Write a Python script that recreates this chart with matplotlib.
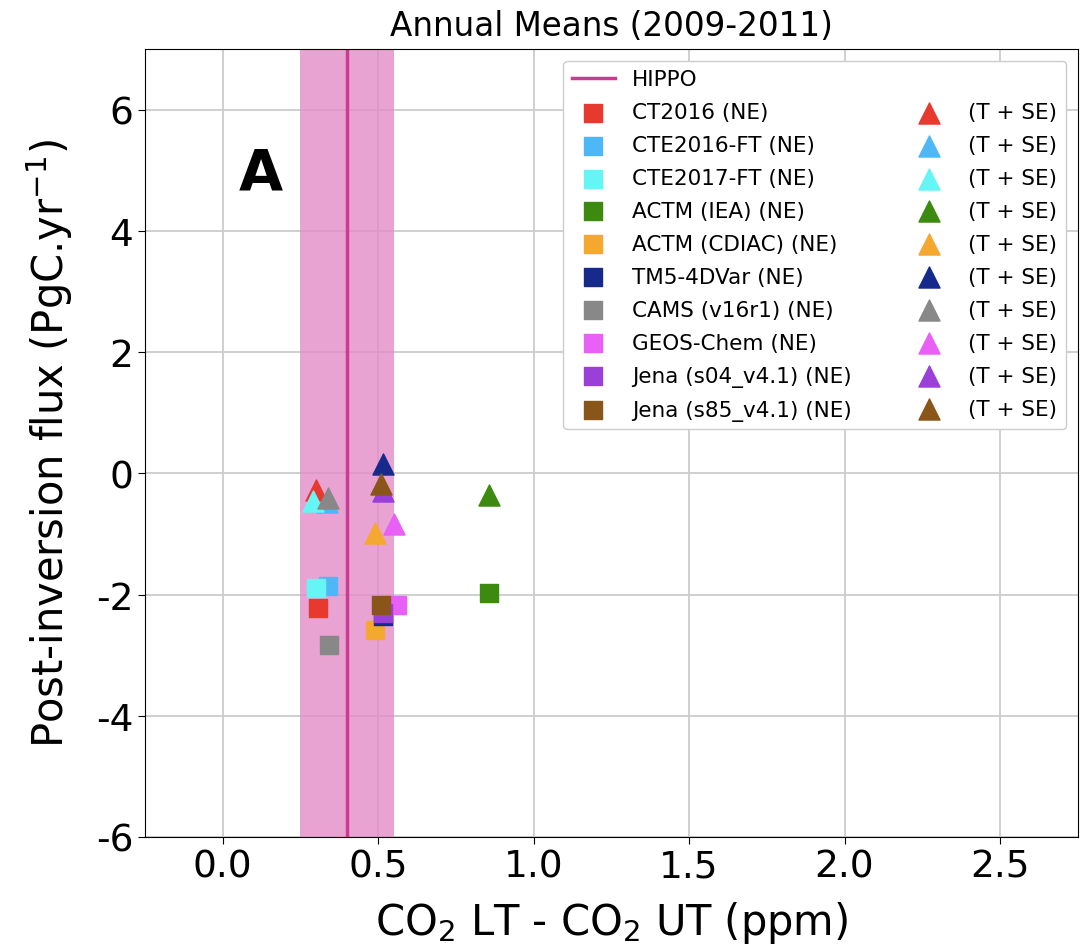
import matplotlib
matplotlib.use("Agg")
import matplotlib.pyplot as plt
from matplotlib.lines import Line2D

models = ["CT2016", "CTE2016-FT", "CTE2017-FT", "ACTM (IEA)", "ACTM (CDIAC)",
          "TM5-4DVar", "CAMS (v16r1)", "GEOS-Chem", "Jena (s04_v4.1)", "Jena (s85_v4.1)"]
colors = ["#e8392f", "#4db8f5", "#66f5f5", "#3d8a10", "#f5a830",
          "#162a8c", "#888888", "#e860f5", "#9a40d8", "#8a5518"]
# NE (squares)
ne_x = [0.305, 0.34, 0.30, 0.855, 0.49, 0.515, 0.343, 0.56, 0.515, 0.51]
ne_y = [-2.23, -1.86, -1.90, -1.98, -2.58, -2.36, -2.84, -2.18, -2.30, -2.18]
# T + SE (triangles)
tse_x = [0.30, 0.335, 0.29, 0.855, 0.49, 0.515, 0.34, 0.55, 0.515, 0.51]
tse_y = [-0.28, -0.48, -0.45, -0.36, -0.99, 0.16, -0.41, -0.84, -0.30, -0.17]

hippo_x = 0.40
hippo_lo, hippo_hi = 0.25, 0.55

fig = plt.figure(figsize=(10.82, 9.53), dpi=100)
ax = fig.add_axes([0.134, 0.1207, 0.862, 0.8268])

ax.axvspan(hippo_lo, hippo_hi, color="#e48cc8", alpha=0.8, zorder=1, lw=0)
hl, = ax.plot([hippo_x, hippo_x], [-6, 7], color="#cc3b92", lw=2.5, zorder=2)

sq_handles, tri_handles = [], []
for i in range(len(models)):
    s = ax.scatter(ne_x[i], ne_y[i], marker="s", s=160, color=colors[i], zorder=3)
    sq_handles.append(s)
for i in range(len(models)):
    t = ax.scatter(tse_x[i], tse_y[i], marker="^", s=230, color=colors[i], zorder=3)
    tri_handles.append(t)

ax.set_xlim(-0.25, 2.75)
ax.set_ylim(-6, 7)
ax.set_xticks([0.0, 0.5, 1.0, 1.5, 2.0, 2.5])
ax.set_yticks([-6, -4, -2, 0, 2, 4, 6])
ax.set_yticklabels(["-6", "-4", "-2", "0", "2", "4", "6"])
ax.tick_params(labelsize=27, length=5)
ax.grid(True, color="#cccccc", lw=1.3)
ax.set_axisbelow(True)
ax.set_xlabel("CO$_2$ LT - CO$_2$ UT (ppm)", fontsize=30, labelpad=10)
ax.set_ylabel("Post-inversion flux (PgC.yr$^{-1}$)", fontsize=30, labelpad=15)
ax.set_title("Annual Means (2009-2011)", fontsize=23.5, pad=10)
ax.text(0.10, 0.822, "A", transform=ax.transAxes, fontsize=41, fontweight="bold")

blank = Line2D([], [], linestyle="none", marker="none")
handles = [hl] + sq_handles + [blank] + tri_handles
labels = ["HIPPO"] + [m + " (NE)" for m in models] + [""] + ["(T + SE)"] * len(models)
leg = ax.legend(handles, labels, ncol=2, loc="upper right", fontsize=15.5,
                columnspacing=2.6, handletextpad=0.8, labelspacing=0.6,
                borderaxespad=0.55)
leg.get_frame().set_alpha(1.0)

fig.savefig("out.png", dpi=100)
